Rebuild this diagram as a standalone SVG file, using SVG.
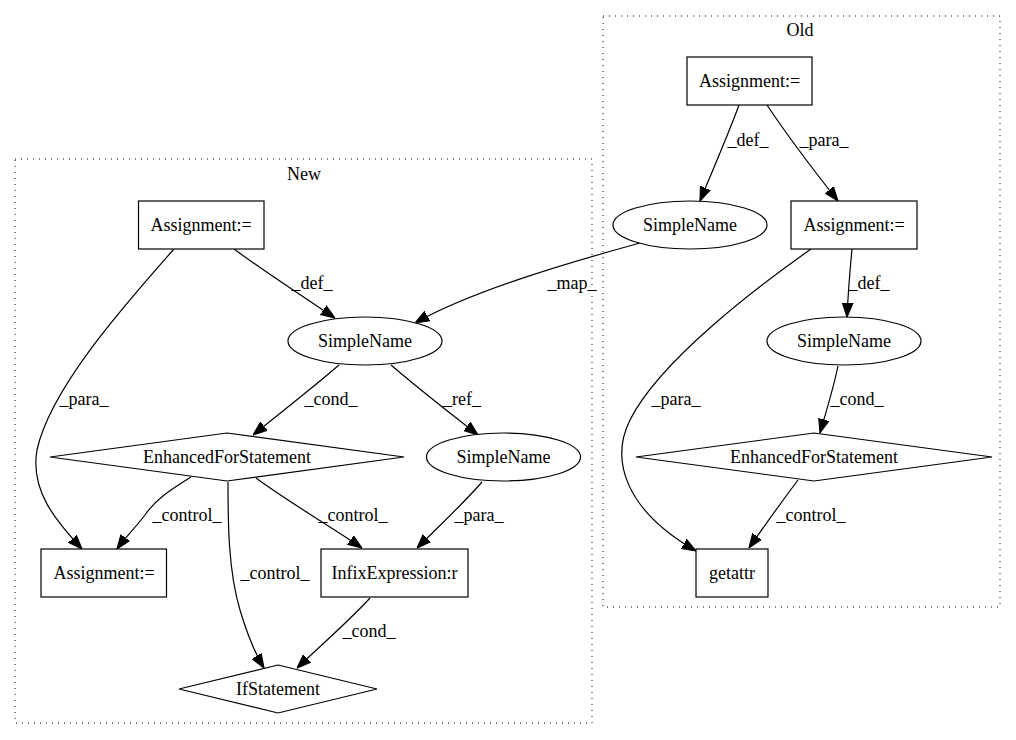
<svg xmlns="http://www.w3.org/2000/svg" width="1016" height="740" viewBox="0 0 1016 740">
<style>
text{font-family:"Liberation Serif","Times New Roman",serif;font-size:18px;fill:#000;text-anchor:middle}
.cl{fill:none;stroke:#000;stroke-width:1;stroke-dasharray:1,5}
.n{fill:#fff;stroke:#000;stroke-width:1.2}
.e{fill:none;stroke:#000;stroke-width:1.2;marker-end:url(#ah)}
</style>
<defs>
<marker id="ah" markerUnits="userSpaceOnUse" markerWidth="14" markerHeight="12" viewBox="0 -5 12 10" refX="12" refY="0" orient="auto">
<path d="M0,-4.5 L12,0 L0,4.5 z" fill="#000" stroke="#000" stroke-width="1"/>
</marker>
</defs>
<rect width="1016" height="740" fill="#fff"/>
<g id="cluster-old">
<rect class="cl" x="603" y="16" width="397" height="591"/>
<text x="800" y="36">Old</text>
</g>
<g id="cluster-new">
<rect class="cl" x="15" y="159" width="577" height="564"/>
<text x="304" y="180">New</text>
</g>
<g id="connectors">
<path class="e" d="M739,105 C730,130 712,172 700,201"/>
<path class="e" d="M767,105 C785,132 815,172 838,201"/>
<path class="e" d="M852,249 C850,270 848,295 847,317"/>
<path class="e" d="M811,249 C760,285 660,360 630,420 C610,460 625,510 696,551"/>
<path class="e" d="M838,366 C833,390 826,412 820,433"/>
<path class="e" d="M798,480 C783,500 765,525 749,548"/>
<path class="e" d="M640,243 C560,265 470,292 415,323"/>
<path class="e" d="M234,249 C265,272 305,298 335,318"/>
<path class="e" d="M174,249 C120,310 50,390 37,450 C30,490 55,520 82,549"/>
<path class="e" d="M339,365 C310,390 280,413 253,435"/>
<path class="e" d="M391,365 C420,390 450,413 478,435"/>
<path class="e" d="M191,477 C170,490 155,500 145,515 C135,528 125,538 117,549"/>
<path class="e" d="M256,478 C290,503 330,526 362,548"/>
<path class="e" d="M228,482 C228,520 228,570 240,610 C248,637 256,655 264,668"/>
<path class="e" d="M482,482 C462,505 437,528 417,548"/>
<path class="e" d="M370,598 C348,622 318,648 297,668"/>
<text x="748" y="146">_def_</text>
<text x="824" y="146">_para_</text>
<text x="869" y="289">_def_</text>
<text x="676" y="405">_para_</text>
<text x="857" y="405">_cond_</text>
<text x="811" y="521">_control_</text>
<text x="572" y="289">_map_</text>
<text x="312" y="289">_def_</text>
<text x="84" y="405">_para_</text>
<text x="331" y="405">_cond_</text>
<text x="462" y="405">_ref_</text>
<text x="187" y="521">_control_</text>
<text x="353" y="521">_control_</text>
<text x="275" y="579">_control_</text>
<text x="479" y="521">_para_</text>
<text x="369" y="637">_cond_</text>
</g>
<g id="old-assign1"><rect class="n" x="687" y="57" width="125" height="48"/><text x="749.5" y="87">Assignment:=</text></g>
<g id="old-simplename1"><ellipse class="n" cx="690" cy="225" rx="77" ry="24"/><text x="690" y="231">SimpleName</text></g>
<g id="old-assign2"><rect class="n" x="791" y="201" width="126" height="48"/><text x="854" y="231">Assignment:=</text></g>
<g id="old-simplename2"><ellipse class="n" cx="844" cy="341" rx="77" ry="24"/><text x="844" y="347">SimpleName</text></g>
<g id="old-efs"><polygon class="n" points="814,433 992,457 814,481 636,457"/><text x="814" y="463">EnhancedForStatement</text></g>
<g id="old-getattr"><rect class="n" x="696" y="549" width="72" height="48"/><text x="732" y="579">getattr</text></g>
<g id="new-assign1"><rect class="n" x="138.5" y="201" width="125.5" height="48"/><text x="201" y="231">Assignment:=</text></g>
<g id="new-simplename1"><ellipse class="n" cx="365" cy="341" rx="77" ry="24"/><text x="365" y="347">SimpleName</text></g>
<g id="new-efs"><polygon class="n" points="227,433 404,457 227,481 50,457"/><text x="227" y="463">EnhancedForStatement</text></g>
<g id="new-simplename2"><ellipse class="n" cx="503.5" cy="457" rx="77" ry="24"/><text x="503.5" y="463">SimpleName</text></g>
<g id="new-assign2"><rect class="n" x="41" y="549" width="125.5" height="48"/><text x="104" y="579">Assignment:=</text></g>
<g id="new-infix"><rect class="n" x="321" y="549" width="147" height="48"/><text x="394.5" y="579">InfixExpression:r</text></g>
<g id="new-if"><polygon class="n" points="278,665 377,689 278,713 179,689"/><text x="278" y="695">IfStatement</text></g>
</svg>
